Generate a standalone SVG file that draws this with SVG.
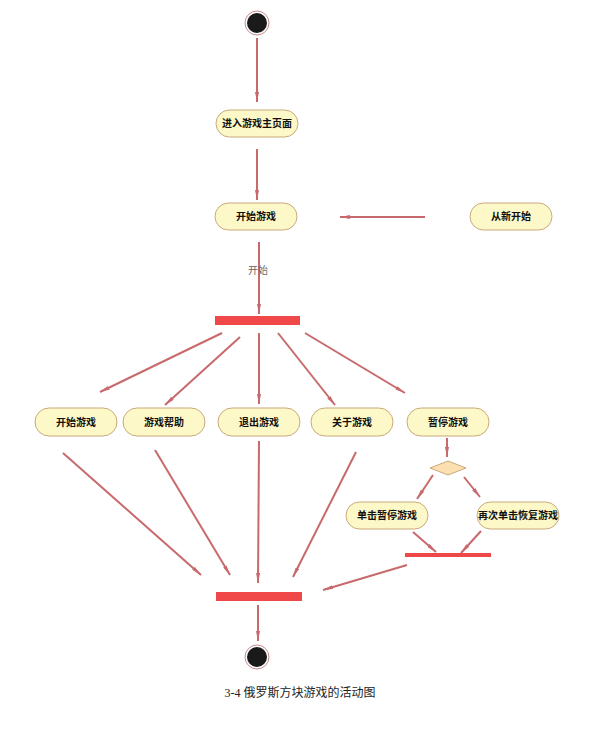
<svg xmlns="http://www.w3.org/2000/svg" width="610" height="730" viewBox="0 0 610 730">
<style>
.n{fill:#fdf8c8;stroke:#c9a97a;stroke-width:1}
.t{font-family:"Noto Sans CJK SC","Liberation Sans",sans-serif;font-size:10px;font-weight:bold;text-anchor:middle;fill:#111}
.c line{stroke:#c8696c;stroke-width:2;marker-end:url(#a)}
.bar{fill:#f04848}
</style>
<defs><marker id="a" viewBox="0 0 20 8" refX="20" refY="4" markerWidth="10" markerHeight="4" orient="auto" markerUnits="userSpaceOnUse"><path d="M0,0L20,4L0,8z" fill="#c8696c"/></marker></defs>
<rect width="610" height="730" fill="#fff"/>
<g class="c">
<line x1="257" y1="38" x2="257" y2="102"/>
<line x1="257" y1="149" x2="257" y2="200"/>
<line x1="425" y1="217" x2="340" y2="217"/>
<line x1="259" y1="242" x2="259" y2="314"/>
<line x1="222" y1="333" x2="100" y2="392"/>
<line x1="240" y1="337" x2="165" y2="405"/>
<line x1="259" y1="333" x2="259" y2="404"/>
<line x1="278" y1="333" x2="335" y2="405"/>
<line x1="305" y1="333" x2="405" y2="393"/>
<line x1="63" y1="453" x2="201" y2="575"/>
<line x1="155" y1="450" x2="230" y2="575"/>
<line x1="259" y1="441" x2="258" y2="583"/>
<line x1="356" y1="452" x2="293" y2="577"/>
<line x1="447" y1="438" x2="447" y2="457"/>
<line x1="433" y1="475" x2="417" y2="499"/>
<line x1="464" y1="477" x2="480" y2="497"/>
<line x1="413" y1="532" x2="436" y2="552"/>
<line x1="481" y1="531" x2="461" y2="553"/>
<line x1="407" y1="565" x2="323" y2="590"/>
<line x1="258" y1="605" x2="258" y2="641"/>
</g>
<text x="258" y="274" font-family="Noto Sans CJK SC,sans-serif" font-size="10" fill="#666" text-anchor="middle">开始</text>
<g id="start"><circle cx="257" cy="23" r="12" fill="#fff" stroke="#c9898a"/><circle cx="257" cy="23" r="10" fill="#1a1a1a"/></g>
<g id="n1"><rect class="n" x="216" y="110" width="82" height="27" rx="13.5"/><text class="t" x="257" y="127">进入游戏主页面</text></g>
<g id="n2"><rect class="n" x="215" y="203" width="82" height="27" rx="13.5"/><text class="t" x="256" y="220">开始游戏</text></g>
<g id="n3"><rect class="n" x="470" y="203" width="82" height="27" rx="13.5"/><text class="t" x="511" y="220">从新开始</text></g>
<g id="fork"><rect class="bar" x="215" y="316" width="85" height="9"/></g>
<g id="r1"><rect class="n" x="35" y="408" width="82" height="28" rx="14"/><text class="t" x="76" y="426">开始游戏</text></g>
<g id="r2"><rect class="n" x="123" y="408" width="82" height="28" rx="14"/><text class="t" x="164" y="426">游戏帮助</text></g>
<g id="r3"><rect class="n" x="218" y="408" width="82" height="28" rx="14"/><text class="t" x="259" y="426">退出游戏</text></g>
<g id="r4"><rect class="n" x="311" y="408" width="82" height="28" rx="14"/><text class="t" x="352" y="426">关于游戏</text></g>
<g id="r5"><rect class="n" x="407" y="408" width="82" height="28" rx="14"/><text class="t" x="448" y="426">暂停游戏</text></g>
<g id="dec"><path d="M430,468L448,461L466,468L448,475z" fill="#fde0b0" stroke="#c9a97a"/></g>
<g id="p1"><rect class="n" x="346" y="502" width="82" height="27" rx="13.5"/><text class="t" x="387" y="519">单击暂停游戏</text></g>
<g id="p2"><rect class="n" x="477" y="502" width="82" height="27" rx="13.5"/><text class="t" x="518" y="519" font-size="9">再次单击恢复游戏</text></g>
<g id="join2"><rect class="bar" x="405" y="553" width="86" height="4"/></g>
<g id="join"><rect class="bar" x="216" y="592" width="86" height="9"/></g>
<g id="end"><circle cx="257" cy="657" r="12" fill="#fff" stroke="#c9898a"/><circle cx="257" cy="657" r="10" fill="#1a1a1a"/></g>
<text x="300" y="697" font-family="Liberation Serif,Noto Sans CJK SC,serif" font-size="12" text-anchor="middle" fill="#222">3-4  俄罗斯方块游戏的活动图</text>
</svg>
